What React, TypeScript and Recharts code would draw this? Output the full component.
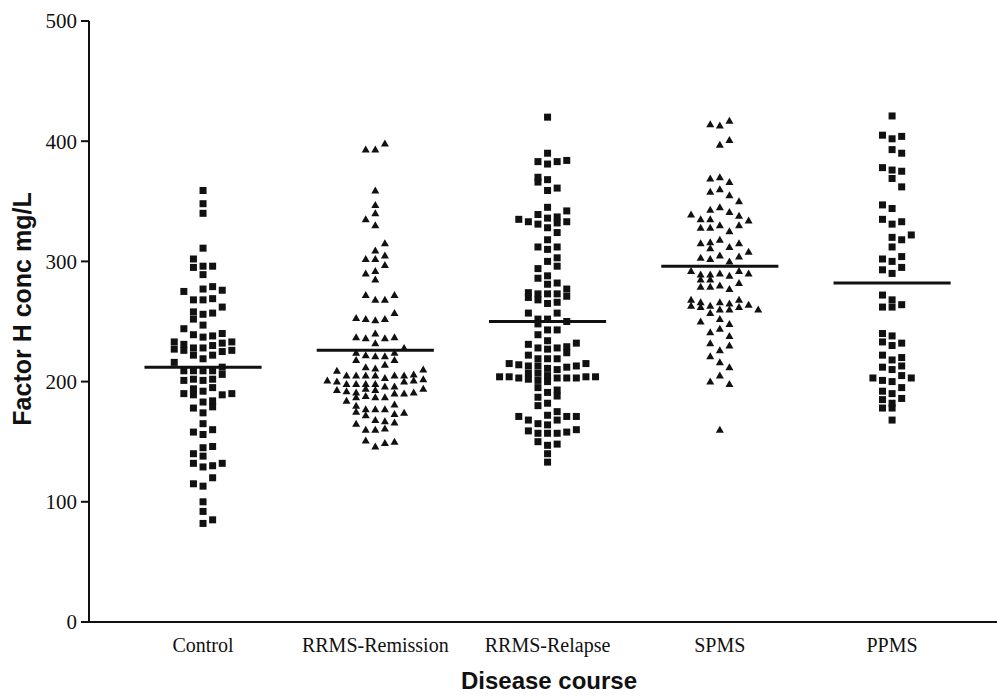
import { ScatterChart, Scatter, XAxis, YAxis, ReferenceLine } from 'recharts';

const groups = ['Control', 'RRMS-Remission', 'RRMS-Relapse', 'SPMS', 'PPMS'];
const medians = [212, 226, 250, 296, 282];
const yTicks = [0, 100, 200, 300, 400, 500];

// each point: [column in the swarm, Factor H conc]
const control: [number, number][] = [
  [0, 359], [0, 348], [0, 340], [0, 311], [-1, 302], [-1, 295], [0, 296], [1, 296], [0, 289],
  [-2, 275], [0, 277], [1, 279], [2, 276], [-1, 268], [0, 268], [1, 269], [2, 262], [-1, 258],
  [-1, 252], [0, 256], [1, 257], [0, 247], [-2, 244], [-1, 239], [0, 237], [1, 238], [2, 240],
  [-3, 233], [-3, 227], [-2, 231], [-2, 226], [-1, 228], [-1, 222], [0, 228], [0, 219], [1, 230],
  [1, 222], [2, 232], [2, 225], [3, 233], [3, 226], [-3, 216], [-2, 209], [-1, 209], [0, 209],
  [1, 209], [2, 212], [2, 206], [-2, 201], [-1, 202], [0, 201], [1, 202], [1, 195], [-1, 194],
  [0, 192], [-2, 190], [-1, 189], [2, 189], [3, 190], [0, 183], [1, 184], [1, 179], [-1, 178],
  [0, 174], [0, 165], [1, 160], [-1, 158], [0, 156], [1, 146], [0, 145], [-1, 140], [0, 138],
  [-1, 132], [2, 132], [1, 130], [0, 129], [1, 120], [-1, 115], [0, 113], [0, 100], [0, 92],
  [1, 85], [0, 82],
];

const remission: [number, number][] = [
  [-1, 393], [0, 393], [1, 398], [0, 359], [0, 347], [0, 340], [-1, 335], [0, 330], [1, 315],
  [0, 309], [-1, 302], [0, 302], [1, 305], [1, 297], [-1, 290], [0, 292], [0, 285], [-1, 272],
  [0, 268], [1, 268], [2, 272], [-2, 253], [-1, 252], [0, 251], [1, 252], [2, 257], [-2, 237],
  [-1, 236], [0, 240], [0, 232], [1, 236], [2, 237], [3, 228],
  [-2, 224], [-1, 222], [0, 221], [-2, 218], [-1, 212], [0, 211], [-4, 209], [-3, 205], [-2, 205],
  [-1, 205], [0, 205], [-5, 201], [-4, 200], [-3, 198], [-2, 198], [-1, 198], [0, 198], [-4, 193],
  [-3, 192], [-2, 191], [-1, 194], [0, 193], [-2, 187], [-1, 188], [0, 187], [-3, 184], [-2, 180],
  [-2, 175], [-1, 177], [-1, 172], [0, 177], [0, 168], [-2, 165], [-1, 160], [0, 160], [-1, 151],
  [0, 146],
  [1, 221], [1, 214], [1, 203], [1, 196], [1, 187], [1, 177], [1, 167], [1, 161], [1, 149],
  [2, 224], [2, 218], [2, 205], [2, 196], [2, 190], [2, 181], [2, 173], [2, 166], [2, 150],
  [3, 205], [3, 200], [3, 190], [3, 174], [4, 206], [4, 201], [4, 191], [5, 210], [5, 202], [5, 194],
];

const relapse: [number, number][] = [
  [0, 420], [0, 390], [-1, 383], [0, 381], [1, 383], [2, 384], [-1, 370], [-1, 366], [0, 368],
  [0, 359], [1, 361], [0, 345], [2, 342], [-3, 335], [-2, 333], [-1, 339], [0, 336], [1, 337],
  [1, 332], [2, 333], [-1, 331], [0, 328], [1, 324], [0, 318], [-1, 312], [0, 310], [1, 312],
  [1, 303], [0, 300], [-1, 294], [1, 296], [0, 288], [-1, 286], [0, 281], [1, 282], [2, 277],
  [-2, 274], [-2, 270], [-1, 273], [-1, 268], [0, 273], [1, 273], [2, 271], [0, 265], [1, 266],
  [-2, 257], [1, 257], [-1, 252], [0, 252], [2, 250], [-1, 248], [0, 243], [1, 243], [-1, 239],
  [0, 234], [-2, 231], [-1, 228], [0, 227], [1, 228], [2, 229], [2, 224], [3, 232], [-2, 222],
  [0, 219], [1, 219], [-1, 219], [-4, 215], [-3, 214], [-2, 213], [-1, 213], [0, 211], [1, 210],
  [2, 212], [3, 213], [4, 215], [-5, 204], [-4, 204], [-3, 203], [-2, 207], [-2, 202], [-1, 207],
  [-1, 201], [0, 205], [0, 200], [1, 203], [2, 203], [3, 203], [4, 204], [5, 204], [-1, 195],
  [0, 191], [1, 193], [1, 188], [-1, 187], [-1, 180], [0, 182], [1, 175], [-3, 171], [-2, 168],
  [-1, 165], [0, 172], [0, 164], [1, 168], [2, 171], [3, 171], [-2, 159], [-1, 157], [0, 157],
  [1, 157], [2, 158], [3, 160], [-1, 150], [0, 147], [1, 148], [0, 140], [0, 133],
];

const spms: [number, number][] = [
  [-1, 414], [0, 413], [1, 417], [0, 397], [1, 401], [-1, 369], [0, 370], [1, 366], [-1, 358],
  [0, 360], [1, 355], [2, 350], [-1, 343], [0, 345], [1, 341], [2, 338], [-3, 339], [-2, 335],
  [-1, 335], [-1, 328], [-2, 328], [0, 330], [1, 325], [2, 330], [3, 334], [-2, 315], [-1, 316],
  [-1, 311], [0, 318], [1, 312], [2, 315], [-2, 303], [-1, 302], [0, 305], [1, 300], [2, 304],
  [3, 308], [-3, 292], [-2, 289], [-2, 285], [-1, 289], [-1, 285], [0, 290], [1, 288], [2, 292],
  [3, 290], [-2, 279], [-1, 279], [0, 280], [1, 277], [2, 282], [-3, 268], [-3, 263], [-2, 266],
  [-2, 262], [-1, 263], [-1, 257], [0, 266], [0, 260], [1, 265], [1, 260], [2, 268], [2, 262],
  [3, 264], [4, 260], [-2, 250], [0, 252], [1, 248], [-1, 241], [0, 244], [1, 238], [-1, 232],
  [0, 226], [1, 230], [-1, 221], [0, 216], [1, 212], [0, 205], [-1, 200], [1, 198], [0, 160],
];

const ppms: [number, number][] = [
  [0, 421], [-1, 405], [0, 402], [1, 404], [0, 393], [1, 390], [-1, 378], [0, 376], [1, 375],
  [0, 369], [1, 362], [-1, 347], [0, 344], [-1, 335], [0, 331], [1, 333], [2, 322], [0, 320],
  [1, 318], [0, 312], [-1, 302], [0, 300], [1, 304], [-1, 293], [0, 290], [1, 295], [-1, 272],
  [0, 268], [-1, 262], [0, 262], [1, 264], [-1, 240], [0, 238], [-1, 233], [0, 230], [1, 232],
  [-1, 222], [0, 218], [1, 220], [-1, 212], [0, 210], [1, 213], [-2, 203], [-1, 201], [0, 200],
  [1, 205], [2, 203], [-1, 192], [0, 190], [1, 195], [-1, 185], [0, 182], [1, 186], [-1, 178],
  [0, 178], [0, 168],
];

const STEP = 0.0557; // swarm column width in category units
const HALF = 0.34; // half length of the median bar

const toPoints = (pts: [number, number][], gi: number) =>
  pts.map(([c, v]) => ({ x: gi + 1 + c * STEP, y: v }));

function Square(props: any) {
  const { cx, cy } = props;
  if (cx == null || cy == null) return null;
  return <rect x={cx - 3.5} y={cy - 3.5} width={7} height={7} fill="#111" />;
}

function Triangle(props: any) {
  const { cx, cy } = props;
  if (cx == null || cy == null) return null;
  return <polygon points={`${cx},${cy - 4} ${cx + 4},${cy + 3} ${cx - 4},${cy + 3}`} fill="#111" />;
}

const series = [
  { data: control, shape: Square },
  { data: remission, shape: Triangle },
  { data: relapse, shape: Square },
  { data: spms, shape: Triangle },
  { data: ppms, shape: Square },
];

export default function App() {
  return (
    <div style={{ position: 'absolute', left: 0, top: 0, width: 997, height: 696, background: '#fff' }}>
      <ScatterChart width={997} height={696} margin={{ top: 21, right: 0, bottom: 0, left: 0 }}>
        <XAxis
          type="number"
          dataKey="x"
          domain={[0.338, 5.609]}
          ticks={[1, 2, 3, 4, 5]}
          interval={0}
          tickFormatter={(v: number) => groups[Math.round(v) - 1]}
          tickLine={false}
          tickSize={8}
          tickMargin={8}
          height={74}
          axisLine={{ stroke: '#111', strokeWidth: 2 }}
          tick={{ fontFamily: 'Liberation Serif', fontSize: 20, fill: '#111' }}
          allowDataOverflow
        />
        <YAxis
          type="number"
          dataKey="y"
          domain={[0, 500]}
          ticks={yTicks}
          interval={0}
          width={89}
          tickSize={8}
          tickMargin={4}
          axisLine={{ stroke: '#111', strokeWidth: 2 }}
          tickLine={{ stroke: '#111', strokeWidth: 2 }}
          tick={{ fontFamily: 'Liberation Serif', fontSize: 21, fill: '#111' }}
        />
        {series.map((s, i) => (
          <Scatter key={groups[i]} name={groups[i]} data={toPoints(s.data, i)} shape={s.shape} isAnimationActive={false} />
        ))}
        {medians.map((m, i) => (
          <ReferenceLine
            key={'m' + i}
            segment={[{ x: i + 1 - HALF, y: m }, { x: i + 1 + HALF, y: m }]}
            stroke="#111"
            strokeWidth={3}
          />
        ))}
      </ScatterChart>
      <svg width={997} height={696} style={{ position: 'absolute', left: 0, top: 0, pointerEvents: 'none' }}>
        <text
          transform="translate(31,309) rotate(-90)"
          textAnchor="middle"
          fontFamily="Liberation Sans"
          fontWeight="bold"
          fontSize={25}
          fill="#111"
        >
          Factor H conc mg/L
        </text>
        <text x={549} y={689} textAnchor="middle" fontFamily="Liberation Sans" fontWeight="bold" fontSize={24} fill="#111">
          Disease course
        </text>
      </svg>
    </div>
  );
}
